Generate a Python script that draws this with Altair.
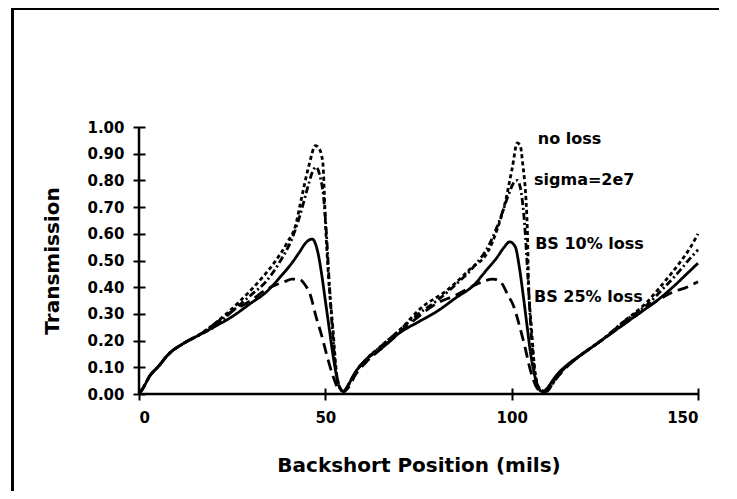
import altair as alt
import pandas as pd

# ---- data ----
noloss_x = [0, 1, 3, 5, 8, 12, 16, 20, 26.5, 32.7, 36.2, 39.9, 42, 43.4, 45.5, 47.4, 48.3, 49.3, 50.1, 50.9, 52, 53, 54, 55, 56,
            58, 61, 65, 70, 75.5, 82.8, 89, 93.5, 96.2, 98.3, 100.2, 101.5, 102.3, 102.9, 104.2, 104.5, 105.3, 106.3, 107.5,
            109, 110.5, 113, 118, 124, 130, 136, 141, 145, 148, 150]
noloss_y = [0, 0.02, 0.07, 0.10, 0.15, 0.19, 0.22, 0.26, 0.34, 0.43, 0.49, 0.57, 0.63, 0.72, 0.85, 0.93, 0.92, 0.87, 0.62, 0.43,
            0.25, 0.08, 0.02, 0.01, 0.03, 0.08, 0.13, 0.18, 0.24, 0.32, 0.39, 0.47, 0.53, 0.62, 0.72, 0.85, 0.94, 0.93, 0.87,
            0.62, 0.43, 0.25, 0.08, 0.02, 0.01, 0.03, 0.08, 0.14, 0.20, 0.27, 0.34, 0.42, 0.49, 0.55, 0.60]

sigma_x = [0, 1, 3, 5, 8, 12, 16, 20, 25, 30, 34, 38, 41, 43, 45, 46.5, 47.5, 48.5, 49.5, 50.3, 51, 51.8, 52.7, 53.7, 55, 56,
           58, 61, 65, 70, 75, 80, 85, 90, 94, 97, 99, 100.5, 101.5, 102.5, 103.5, 104.3, 105, 106, 107, 108.5, 110,
           113, 118, 124, 130, 136, 141, 145, 148, 150]
sigma_y = [0, 0.02, 0.07, 0.10, 0.15, 0.19, 0.22, 0.25, 0.31, 0.37, 0.42, 0.50, 0.58, 0.66, 0.76, 0.83, 0.85, 0.82, 0.74, 0.60,
           0.43, 0.26, 0.10, 0.03, 0.01, 0.03, 0.08, 0.13, 0.18, 0.24, 0.30, 0.35, 0.41, 0.48, 0.56, 0.66, 0.74, 0.79, 0.80,
           0.76, 0.63, 0.45, 0.28, 0.10, 0.03, 0.01, 0.03, 0.08, 0.14, 0.20, 0.27, 0.33, 0.40, 0.46, 0.51, 0.54]

bs10_x = [0, 1, 3, 5, 8, 12, 16, 20, 25, 30, 34, 38, 41, 43, 45, 46.5, 48, 49, 50, 51, 52, 53, 54, 55, 56, 58, 61, 65, 70,
          75, 80, 85, 90, 93, 96, 98, 99.5, 101, 102, 103, 104, 105, 106, 107, 108, 109, 110, 112, 115, 119, 124, 129,
          134, 139, 144, 147, 150]
bs10_y = [0, 0.02, 0.07, 0.10, 0.15, 0.19, 0.22, 0.25, 0.29, 0.34, 0.38, 0.44, 0.49, 0.53, 0.57, 0.58, 0.53, 0.45, 0.35, 0.25,
          0.15, 0.07, 0.02, 0.01, 0.03, 0.08, 0.13, 0.17, 0.23, 0.27, 0.31, 0.36, 0.41, 0.46, 0.51, 0.55, 0.57, 0.55, 0.48,
          0.38, 0.27, 0.16, 0.08, 0.03, 0.01, 0.01, 0.03, 0.07, 0.11, 0.15, 0.20, 0.25, 0.30, 0.35, 0.41, 0.45, 0.49]

bs25_x = [0, 1, 3, 5, 8, 12, 16, 20, 25, 30, 34, 37, 39, 41, 43, 44.5, 46, 47.5, 49, 50.5, 52, 53.5, 55, 56.5, 58, 61, 65,
          70, 75, 80, 85, 89, 92, 95, 97, 99, 100.5, 102, 103.5, 105, 106.5, 108, 109.5, 111, 114, 118, 123, 128, 133,
          138, 143, 147, 150]
bs25_y = [0, 0.02, 0.07, 0.10, 0.15, 0.19, 0.22, 0.26, 0.31, 0.35, 0.39, 0.41, 0.42, 0.43, 0.43, 0.41, 0.37, 0.29, 0.22, 0.14,
          0.07, 0.02, 0.01, 0.03, 0.07, 0.12, 0.17, 0.23, 0.29, 0.34, 0.37, 0.40, 0.42, 0.43, 0.42, 0.37, 0.33, 0.26, 0.18,
          0.09, 0.03, 0.01, 0.01, 0.04, 0.09, 0.14, 0.19, 0.24, 0.29, 0.34, 0.38, 0.40, 0.42]

series_names = ["no loss", "sigma=2e7", "BS 10% loss", "BS 25% loss"]
label_text = ["no loss", "sigma=2e7", "BS 10% loss", "BS 25% loss"]
label_x = [107, 106, 106.3, 106]
label_y = [0.955, 0.80, 0.56, 0.365]

x_ticks = [0, 50, 100, 150]
y_ticks = [0.0, 0.1, 0.2, 0.3, 0.4, 0.5, 0.6, 0.7, 0.8, 0.9, 1.0]

# ---- tables ----
rows = []
for name, xs, ys in zip(series_names, [noloss_x, sigma_x, bs10_x, bs25_x], [noloss_y, sigma_y, bs10_y, bs25_y]):
    for i, (a, b) in enumerate(zip(xs, ys)):
        rows.append({"x": a, "y": b, "series": name, "order": i})
df = pd.DataFrame(rows)
labels = pd.DataFrame({"x": label_x, "y": label_y, "text": label_text})
one = pd.DataFrame({"a": [0]})

W, H = 559, 267
FONT = "DejaVu Sans"

x_enc = alt.X("x:Q", scale=alt.Scale(domain=[0, 150], nice=False, zero=False),
              axis=alt.Axis(values=x_ticks, format="d", title="Backshort Position (mils)",
                            domain=False, grid=False, offset=-6, tickSize=12, tickWidth=2,
                            tickColor="black", labelPadding=10, titlePadding=30))
y_enc = alt.Y("y:Q", scale=alt.Scale(domain=[0, 1], nice=False),
              axis=alt.Axis(values=y_ticks, format=".2f", title="Transmission",
                            domain=False, grid=False, offset=-6, tickSize=12, tickWidth=2,
                            tickColor="black", labelPadding=9, titlePadding=24))

lines = alt.Chart(df).mark_line(color="black", strokeWidth=2.8, interpolate="monotone").encode(
    x=x_enc, y=y_enc,
    detail="series:N",
    order="order:Q",
    strokeDash=alt.StrokeDash("series:N",
                              scale=alt.Scale(domain=series_names,
                                              range=[[4, 3], [7, 3, 2, 3], [1, 0], [11, 6]]),
                              legend=None),
)

texts = alt.Chart(labels).mark_text(align="left", baseline="middle", font=FONT, fontSize=16,
                                    fontWeight="bold", color="black").encode(
    x=x_enc, y=y_enc, text="text:N")

x_axis_line = alt.Chart(one).mark_rule(color="black", strokeWidth=2.5).encode(
    x=alt.value(0), x2=alt.value(W), y=alt.value(H))
y_axis_line = alt.Chart(one).mark_rule(color="black", strokeWidth=2.5).encode(
    x=alt.value(0), y=alt.value(0), y2=alt.value(H))

# outer frame (top and left edges only)
frame_top = alt.Chart(one).mark_rect(color="black").encode(
    x=alt.value(-128), x2=alt.value(580), y=alt.value(-120), y2=alt.value(-117))
frame_left = alt.Chart(one).mark_rect(color="black").encode(
    x=alt.value(-128), x2=alt.value(-125), y=alt.value(-120), y2=alt.value(370))

chart = alt.layer(frame_top, frame_left, lines, texts, x_axis_line, y_axis_line).properties(
    width=W, height=H,
    autosize=alt.AutoSizeParams(type="none"),
    padding={"left": 131, "top": 119, "right": 31, "bottom": 97},
    background="white",
).configure_view(stroke=None).configure_axis(
    labelFont=FONT, labelFontSize=15, labelFontWeight="bold", labelColor="black",
    titleFont=FONT, titleFontSize=20, titleFontWeight="bold", titleColor="black",
)

chart.save("out.html", embed_options={"renderer": "svg", "actions": False})
